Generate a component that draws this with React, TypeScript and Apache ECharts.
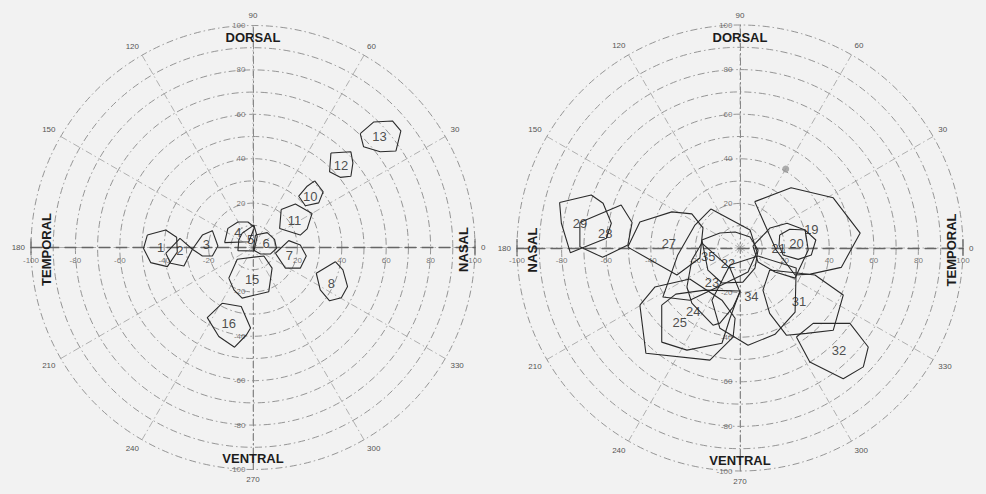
import React, { useEffect, useRef } from "react";
import * as echarts from "echarts";

// ---------- data (x, y in plot units, -100..100) ----------
const leftIds = ["1", "2", "3", "4", "5", "6", "7", "8", "10", "11", "12", "13", "15", "16"];
const leftPolygons: number[][][] = [
  [[-47.6, 5.6], [-39.3, 7.9], [-34.4, 4.6], [-34.1, -2.0], [-38.6, -8.6], [-46.1, -6.8], [-49.3, -0.4]],
  [[-39.3, -2.6], [-32.9, 4.1], [-27.3, -0.8], [-31.1, -8.3], [-37.1, -7.1]],
  [[-27.3, -0.8], [-22.8, 5.6], [-18.3, 7.6], [-15.8, 0.7], [-18.3, -3.8], [-22.8, -3.8]],
  [[-12.8, 2.2], [-11.3, 8.6], [-6.8, 11.5], [-2.3, 11.5], [0.7, 9.1], [-1.9, 2.6]],
  [[-4.9, 6.4], [0.4, 10.1], [1.9, 4.9], [0.4, -1.6], [-6.8, -1.4], [-6.4, 3.4]],
  [[1.1, 5.6], [6.4, 6.7], [9.7, 3.7], [10.6, -0.4], [7.9, -2.9], [3.4, -2.9], [0.1, -1.1]],
  [[10.1, -2.6], [16.1, 3.1], [21.3, 1.1], [24.0, -3.8], [21.3, -9.3], [14.6, -9.3]],
  [[37.1, -6.4], [40.5, -10.1], [42.6, -17.6], [39.8, -22.6], [34.5, -24.0], [30.3, -19.1], [28.5, -11.6]],
  [[27.8, 30.0], [31.6, 25.1], [29.6, 20.1], [23.6, 18.8], [20.6, 23.1], [24.4, 27.6]],
  [[12.7, 17.1], [19.1, 19.6], [26.6, 15.3], [24.4, 8.4], [21.3, 5.6], [12.0, 8.6]],
  [[35.1, 42.6], [44.1, 43.1], [45.0, 38.1], [44.1, 32.1], [39.3, 31.6], [34.5, 34.1]],
  [[48.3, 51.3], [54.3, 56.5], [62.8, 57.0], [66.6, 52.5], [64.4, 43.5], [57.3, 43.1], [49.8, 45.4]],
  [[-10.9, -13.8], [-7.1, -5.3], [4.9, -3.8], [8.6, -9.3], [7.1, -19.9], [-4.9, -22.8], [-8.6, -19.1]],
  [[-13.8, -25.1], [-5.3, -26.6], [-1.1, -36.3], [-2.9, -39.3], [-8.3, -44.9], [-15.4, -40.1], [-20.6, -31.6]],
];
const leftLabelXY: number[][] = [
  [-41.6, 0.2], [-32.9, -1.2], [-21.0, 1.2], [-6.8, 6.8], [-1.1, 3.6], [5.9, 1.6], [16.4, -3.6],
  [35.3, -16.1], [25.8, 23.1], [18.7, 12.0], [39.6, 37.1], [57.0, 49.8], [-0.4, -14.3], [-10.9, -34.1],
];

const rightIds = ["19", "20", "21", "22", "23", "24", "25", "27", "28", "29", "31", "32", "34", "35"];
const rightPolygons: number[][][] = [
  [[6.6, 20.8], [22.9, 27.0], [41.8, 22.5], [53.9, 6.7], [45.4, -8.7], [31.5, -11.7], [24.7, -12.1], [16.2, -0.9]],
  [[17.8, 5.8], [22.3, 8.4], [29.1, 8.1], [34.0, 3.6], [32.0, -3.1], [26.1, -5.1], [19.3, -3.1], [17.5, 1.3]],
  [[5.8, 0.9], [13.5, 9.0], [21.1, 11.1], [29.2, 8.1], [30.6, -0.9], [24.7, -13.5], [15.7, -10.8], [8.1, -6.3]],
  [[-17.1, 3.6], [-9.0, 6.7], [-2.2, 7.2], [4.5, 4.9], [8.1, -0.9], [6.7, -9.0], [1.3, -15.3], [-8.1, -15.7], [-14.4, -9.9]],
  [[-17.1, 2.2], [-4.5, -9.0], [0, -19.8], [-3.1, -26.5], [-9.0, -33.7], [-12.1, -34.6], [-21.6, -24.7], [-23.8, -17.5], [-21.6, -5.4]],
  [[-35.1, -25.6], [-28.8, -20.7], [-15.7, -18.9], [0, -19.3], [-4.5, -31.5], [-8.1, -42.7], [-23.8, -45.8], [-35.1, -42.2]],
  [[-44.9, -25.6], [-38.2, -17.5], [-22.5, -13.9], [-8.1, -23.4], [-2.2, -31.5], [-3.1, -40.0], [-13.5, -50.3], [-42.2, -47.2]],
  [[-50.3, 0.4], [-44.9, 11.7], [-30.6, 16.2], [-21.6, 15.3], [-16.6, 9.0], [-18.0, -4.5], [-28.3, -12.1]],
  [[-71.8, 11.4], [-53.3, 19.3], [-48.4, 11.4], [-50.3, 1.3], [-61.6, -4.2], [-71.8, 0.6]],
  [[-80.9, 20.4], [-66.7, 23.8], [-61.4, 20.1], [-57.7, 11.1], [-59.9, 4.4], [-71.1, -0.1], [-76.1, -2.1], [-80.1, 11.1]],
  [[13.3, -9.9], [33.6, -12.1], [46.3, -21.1], [41.8, -36.9], [29.8, -38.3], [20.8, -39.1], [13.3, -29.3], [10.3, -18.9]],
  [[25.3, -39.9], [32.8, -33.8], [49.3, -33.8], [57.5, -44.4], [55.3, -53.3], [46.3, -58.6], [31.3, -51.1]],
  [[8.1, -3.6], [25.2, -9.0], [24.7, -28.8], [15.7, -38.7], [3.6, -43.6], [-9.0, -36.0], [-12.6, -23.4], [-4.5, -7.6]],
  [[-13.0, 17.5], [4.5, 8.1], [7.6, -1.8], [3.6, -10.8], [-11.2, -18.0], [-22.5, -23.4], [-34.6, -22.0], [-27.9, -3.1], [-20.2, 10.3]],
];
const rightLabelXY: number[][] = [
  [32.0, 8.4], [25.3, 2.2], [17.4, -0.4], [-5.4, -6.9], [-12.6, -15.6], [-21.0, -28.3], [-27.0, -33.6],
  [-31.9, 1.8], [-60.4, 6.6], [-71.8, 10.8], [26.5, -24.1], [44.4, -45.8], [5.1, -21.9], [-14.2, -3.6],
];
const rightMarker: number[][] = [[20.5, 35.4]];

// axis ticks
const cartTicks = [-100, -80, -60, -40, -20, 20, 40, 60, 80, 100];
const radiusMax = 100;
const ringStep = 10;
const angleStep = 30;

// ---------- layout ----------
const FONT = '"Liberation Sans", Arial, sans-serif';
const panels = [
  { cx: 253, cy: 247.5, r: 222, ids: leftIds, polys: leftPolygons, labels: leftLabelXY, markers: [] as number[][],
    top: "DORSAL", bottom: "VENTRAL", left: "TEMPORAL", right: "NASAL" },
  { cx: 740, cy: 248, r: 223, ids: rightIds, polys: rightPolygons, labels: rightLabelXY, markers: rightMarker,
    top: "DORSAL", bottom: "VENTRAL", left: "NASAL", right: "TEMPORAL" },
];

const dashDot = [7, 3, 1.5, 3];
const tickLabelStyle = { fontSize: 8, color: "#555", fontFamily: FONT, textBorderWidth: 0 };

export default function App() {
  const ref = useRef<HTMLDivElement>(null);
  useEffect(() => {
    if (!ref.current) return;
    const chart = echarts.init(ref.current, null, { renderer: "svg" });
    const series: any[] = [];
    const graphic: any[] = [];
    panels.forEach((p, i) => {
      // horizontal axis tick labels (below the horizontal axis)
      series.push({
        type: "scatter",
        xAxisIndex: i,
        yAxisIndex: i,
        symbolSize: 1,
        silent: true,
        z: 3,
        itemStyle: { color: "transparent" },
        data: cartTicks.map((v) => [v, 0]),
        label: { show: true, position: "bottom", distance: 8, formatter: (d: any) => String(d.value[0]), ...tickLabelStyle },
      });
      // vertical axis tick labels (left of the vertical axis)
      series.push({
        type: "scatter",
        xAxisIndex: i,
        yAxisIndex: i,
        symbolSize: 1,
        silent: true,
        z: 3,
        itemStyle: { color: "transparent" },
        data: cartTicks.map((v) => [0, v]),
        label: { show: true, position: "left", distance: 7, formatter: (d: any) => String(d.value[1]), ...tickLabelStyle },
      });
      p.polys.forEach((poly, k) => {
        series.push({
          type: "line",
          xAxisIndex: i,
          yAxisIndex: i,
          data: [...poly, poly[0]],
          symbol: "none",
          silent: true,
          z: 5,
          lineStyle: { color: "#2a2a2a", width: 1.1 },
          name: "rf" + p.ids[k],
        });
      });
      series.push({
        type: "scatter",
        xAxisIndex: i,
        yAxisIndex: i,
        symbolSize: 1,
        itemStyle: { color: "transparent" },
        silent: true,
        z: 6,
        data: p.ids.map((id, k) => ({ name: id, value: p.labels[k] })),
        label: {
          show: true,
          position: "inside",
          formatter: "{b}",
          fontSize: 13,
          color: "#222",
          textBorderWidth: 0,
          textBorderColor: "transparent",
          fontFamily: FONT,
        },
      });
      if (p.markers.length) {
        series.push({
          type: "scatter",
          xAxisIndex: i,
          yAxisIndex: i,
          symbolSize: 7,
          silent: true,
          z: 6,
          itemStyle: { color: "#9a9a9a" },
          data: p.markers,
        });
      }
      const bold = { fontSize: 13, fontWeight: "bold", fontFamily: FONT, fill: "#1c1c1c", align: "center", verticalAlign: "middle" };
      graphic.push({ type: "text", x: p.cx, y: p.cy - p.r + 12, z: 20, style: { ...bold, text: p.top } });
      graphic.push({ type: "text", x: p.cx, y: p.cy + p.r - 11, z: 20, style: { ...bold, text: p.bottom } });
      graphic.push({ type: "text", x: p.cx - p.r + 15, y: p.cy + 2, rotation: Math.PI / 2, z: 20, style: { ...bold, text: p.left } });
      graphic.push({ type: "text", x: p.cx + p.r - 12, y: p.cy + 2, rotation: Math.PI / 2, z: 20, style: { ...bold, text: p.right } });
      graphic.push({ type: "line", z: 20, shape: { x1: p.cx - p.r, y1: p.cy - 9, x2: p.cx - p.r, y2: p.cy + 8 }, style: { stroke: "#555", lineWidth: 1 } });
      graphic.push({ type: "line", z: 20, shape: { x1: p.cx + p.r, y1: p.cy - 9, x2: p.cx + p.r, y2: p.cy + 8 }, style: { stroke: "#555", lineWidth: 1 } });
    });

    const option: any = {
      animation: false,
      backgroundColor: "#f2f2f2",
      textStyle: { fontFamily: FONT },
      polar: panels.map((p) => ({ center: [p.cx, p.cy], radius: p.r })),
      angleAxis: panels.map((p, i) => ({
        polarIndex: i,
        type: "value",
        min: 0,
        max: 360,
        interval: angleStep,
        startAngle: 0,
        clockwise: false,
        axisLine: { show: false },
        axisTick: { show: false },
        axisLabel: {
          show: true,
          margin: 6,
          fontSize: 8,
          color: "#555",
          formatter: (v: number) => (v === 360 ? "" : String(v)),
        },
        splitLine: { show: true, lineStyle: { color: "#a8a8a8", width: 0.9, type: dashDot } },
      })),
      radiusAxis: panels.map((p, i) => ({
        polarIndex: i,
        type: "value",
        min: 0,
        max: radiusMax,
        interval: ringStep,
        axisLine: { show: false },
        axisTick: { show: false },
        axisLabel: { show: false },
        splitLine: { show: true, lineStyle: { color: "#8a8a8a", width: 0.9, type: dashDot } },
      })),
      grid: panels.map((p) => ({ left: p.cx - p.r, top: p.cy - p.r, width: 2 * p.r, height: 2 * p.r })),
      xAxis: panels.map((p, i) => ({
        gridIndex: i,
        type: "value",
        min: -radiusMax,
        max: radiusMax,
        interval: 20,
        axisLine: { show: true, onZero: true, lineStyle: { color: "#666", width: 1.3, type: [11, 6] } },
        axisTick: { show: false },
        splitLine: { show: false },
        axisLabel: { show: false },
      })),
      yAxis: panels.map((p, i) => ({
        gridIndex: i,
        type: "value",
        min: -radiusMax,
        max: radiusMax,
        interval: 20,
        axisLine: { show: true, onZero: true, lineStyle: { color: "#888", width: 1, type: dashDot } },
        axisTick: { show: false },
        splitLine: { show: false },
        axisLabel: { show: false },
      })),
      series,
      graphic,
    };
    chart.setOption(option);
    return () => chart.dispose();
  }, []);
  return (
    <div
      ref={ref}
      style={{ position: "fixed", left: 0, top: 0, width: 986, height: 494, background: "#f2f2f2" }}
    />
  );
}
